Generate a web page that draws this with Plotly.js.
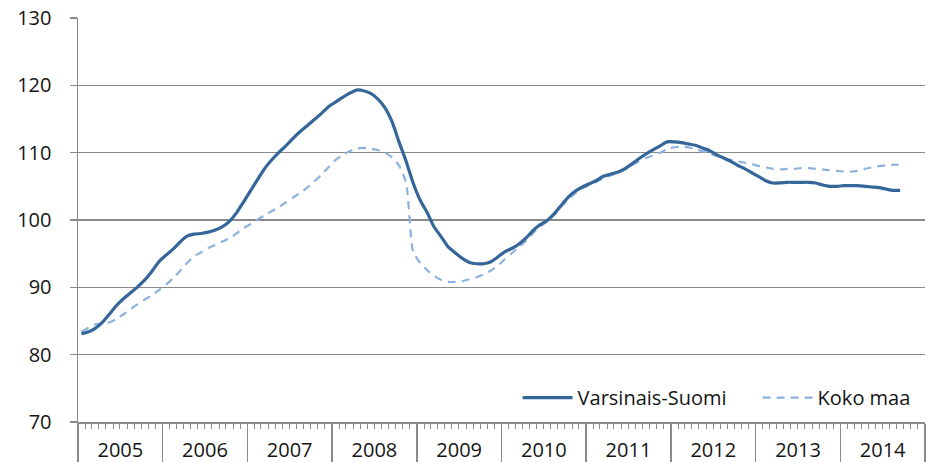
<!DOCTYPE html>
<html>
<head>
<meta charset="utf-8">
<script src="https://cdn.plot.ly/plotly-3.0.1.min.js"></script>
<style>html,body{margin:0;padding:0;background:#fff;}#chart{width:928px;height:462px;}</style>
</head>
<body>
<div id="chart"></div>
<script>
// Monthly index values, Jan 2005 .. Sep 2014
const startYear = 2005;
const years = ["2005","2006","2007","2008","2009","2010","2011","2012","2013","2014"];
const seriesNames = ["Varsinais-Suomi", "Koko maa"];
const varsinaisSuomi = [
 83.1,83.4,83.9,84.8,86.0,87.3,88.3,89.2,90.1,91.1,92.4,93.8,
 94.8,95.7,96.7,97.6,97.9,98.0,98.2,98.5,99.0,99.8,101.1,102.7,
 104.4,106.1,107.6,108.9,110.0,111.0,112.1,113.1,114.0,114.9,115.8,116.8,
 117.5,118.2,118.8,119.3,119.2,118.8,118.0,116.7,114.6,111.6,108.7,105.5,
 102.9,101.0,99.0,97.5,96.0,95.1,94.3,93.7,93.5,93.5,93.8,94.5,
 95.3,95.8,96.4,97.3,98.4,99.3,99.9,100.9,102.2,103.4,104.3,104.9,
 105.4,105.9,106.5,106.8,107.1,107.6,108.3,109.1,109.8,110.4,111.0,111.6,
 111.6,111.5,111.3,111.1,110.7,110.3,109.7,109.2,108.7,108.1,107.6,107.0,
 106.4,105.8,105.5,105.5,105.6,105.6,105.6,105.6,105.5,105.2,105.0,105.0,
 105.1,105.1,105.1,105.0,104.9,104.8,104.6,104.4,104.4
];
const kokoMaa = [
 83.4,84.0,84.5,84.6,84.8,85.3,86.0,86.8,87.5,88.2,88.8,89.6,
 90.4,91.4,92.4,93.6,94.6,95.2,95.8,96.3,96.8,97.3,98.0,98.8,
 99.4,100.1,100.7,101.3,101.9,102.6,103.3,104.0,104.8,105.7,106.7,107.8,
 108.9,109.6,110.2,110.6,110.7,110.6,110.4,110.0,109.3,108.1,105.5,95.3,
 93.6,92.5,91.7,91.1,90.8,90.8,90.9,91.2,91.5,91.9,92.5,93.2,
 94.2,95.1,96.0,96.9,98.0,99.0,99.8,100.8,102.0,103.1,104.0,104.7,
 105.2,105.7,106.2,106.6,107.0,107.5,108.1,108.7,109.2,109.6,110.0,110.5,
 110.8,110.9,110.8,110.5,110.2,109.9,109.5,109.2,108.9,108.7,108.5,108.3,
 108.0,107.8,107.6,107.5,107.6,107.6,107.7,107.7,107.6,107.5,107.4,107.3,
 107.2,107.2,107.3,107.6,107.8,108.0,108.1,108.2,108.2
];

function monthDate(i){
  const y = startYear + Math.floor(i/12);
  const m = (i%12)+1;
  return y + "-" + (m<10?"0":"") + m + "-16";
}
const xs = varsinaisSuomi.map((_, i) => monthDate(i));

const font = "Open Sans, sans-serif";
const gridCol = "#8a8a8a";
const txtCol = "#151515";

const traces = [
  {
    x: xs, y: kokoMaa, name: seriesNames[1], type: "scatter", mode: "lines",
    line: {color: "#8cb2dd", width: 2.2, dash: "8px,6px", shape: "spline", smoothing: 0.6},
    legendrank: 2
  },
  {
    x: xs, y: varsinaisSuomi, name: seriesNames[0], type: "scatter", mode: "lines",
    line: {color: "#356699", width: 3.2, shape: "spline", smoothing: 0.6},
    legendrank: 1
  }
];

const layout = {
  width: 928, height: 462,
  margin: {l: 78, r: 3, t: 18, b: 40, autoexpand: false},
  paper_bgcolor: "#fff", plot_bgcolor: "#fff",
  font: {family: font, size: 20, color: txtCol},
  showlegend: true,
  legend: {
    orientation: "h", x: 0.519, xanchor: "left", y: 0.012, yanchor: "bottom",
    font: {family: font, size: 20, color: txtCol},
    bgcolor: "rgba(0,0,0,0)", itemwidth: 50, entrywidth: 175
  },
  xaxis: {
    type: "date",
    range: [startYear + "-01-01", (startYear + years.length) + "-01-01"],
    tick0: startYear + "-01-01", dtick: "M12",
    ticklabelmode: "period",
    tickformat: "%Y",
    ticks: "outside", ticklen: 40, tickwidth: 1.5, tickcolor: gridCol,
    minor: {dtick: "M1", ticks: "outside", ticklen: 5, tickwidth: 1, tickcolor: gridCol, showgrid: false},
    showgrid: false, zeroline: false,
    showline: true, linecolor: gridCol, linewidth: 1.5,
    tickfont: {family: font, size: 20, color: txtCol},
    ticklabelstandoff: -31,
    fixedrange: true
  },
  yaxis: {
    range: [70, 130], dtick: 10, tick0: 70,
    showgrid: true, gridcolor: gridCol, gridwidth: 1.5,
    zeroline: false,
    showline: true, linecolor: gridCol, linewidth: 1.5,
    ticks: "outside", ticklen: 7, tickwidth: 1.5, tickcolor: gridCol,
    ticklabelstandoff: 14,
    tickfont: {family: font, size: 20, color: txtCol},
    fixedrange: true
  }
};

Plotly.newPlot("chart", traces, layout, {displayModeBar: false, staticPlot: true});
</script>
</body>
</html>
